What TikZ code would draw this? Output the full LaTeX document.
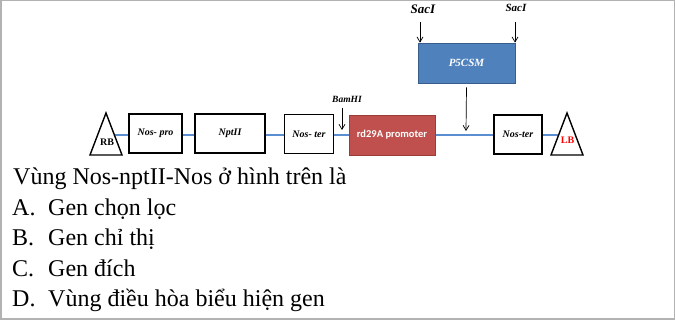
\documentclass[tikz,border=0pt]{standalone}
\usepackage{fontspec}
\setmainfont{Liberation Serif}
\newfontfamily\carlito{Carlito}
\usetikzlibrary{arrows.meta}
\definecolor{dnablue}{HTML}{5B8ED0}
\definecolor{promred}{HTML}{C0504D}
\definecolor{promedge}{HTML}{9C3B38}
\definecolor{geneblue}{HTML}{4F81BD}
\definecolor{geneedge}{HTML}{385D8A}

\begin{document}
\begin{tikzpicture}[x=1pt,y=1pt,
  genebox/.style={draw, line width=1.4pt, fill=white, inner sep=0pt, minimum height=39,
    font=\fontsize{10}{12}\selectfont\bfseries\itshape},
  cut/.style={-{Straight Barb[length=5pt,width=6pt]}, line width=0.7pt},
  site/.style={inner sep=0pt, font=\bfseries\itshape}]

\useasboundingbox (0,0) rectangle (675,320);
\draw[gray!60, line width=1.5pt] (0.75,0.75) rectangle (674.25,319.25);

% T-DNA backbone between the two borders
\coordinate (rbtop) at (106,207);
\coordinate (lbtop) at (567,207);
\draw[dnablue, line width=1.8pt] (106,185) -- (567,185);

% border triangles
\draw[line width=1.4pt, fill=white] (90,165) -- (rbtop) -- (122,165) -- cycle;
\draw[line width=1.4pt, fill=white] (551,165) -- (lbtop) -- (583,165) -- cycle;
\node[inner sep=0pt, font=\fontsize{10}{12}\selectfont\bfseries] (rb) at (107,177.5) {RB};
\node[inner sep=0pt, text=red, font=\fontsize{10}{12}\selectfont\bfseries] (lb) at (567.5,180) {LB};

% cassette boxes
\node[genebox, minimum width=53] (nospro) at (155.5,186.5) {Nos- pro};
\node[genebox, minimum width=70] (nptii) at (230,186.5) {NptII};
\node[genebox, minimum width=49] (noster) at (309,186) {Nos- ter};
\node[draw=promedge, fill=promred, line width=0.8pt, minimum width=86, minimum height=40,
  inner sep=0pt, text=white, font=\carlito\fontsize{10.5}{12}\selectfont\bfseries] (rd) at (392,185) {rd29A promoter};
\node[genebox, minimum width=48] (nosterb) at (518,185.5) {Nos-ter};

% inserted gene
\node[draw=geneedge, fill=geneblue, line width=0.8pt, minimum width=97, minimum height=40,
  inner sep=0pt, text=white, font=\fontsize{11}{13}\selectfont\bfseries\itshape] (p5) at (466.5,257) {P5CSM};

% restriction sites
\node[site, font=\fontsize{13}{15}\selectfont\bfseries\itshape] (saca) at (423,311) {SacI};
\node[site, font=\fontsize{11}{13}\selectfont\bfseries\itshape] (sacb) at (516,312.5) {SacI};
\node[site, font=\fontsize{9.5}{11}\selectfont\bfseries\itshape] (bam) at (347,221) {BamHI};
\coordinate (sacastart) at (420,298);
\coordinate (sacbstart) at (515,298);
\coordinate (bamstart) at (342,212);
\coordinate (bamend) at (342,190);
\coordinate (insert) at (466,189);
\draw[cut] (sacastart) -- (sacastart |- p5.north);
\draw[cut] (sacbstart) -- (sacbstart |- p5.north);
\draw[cut] (bamstart) -- (bamend);
\draw[cut] ([yshift=-4]p5.south) -- (insert);

% question
\node[anchor=base west, inner sep=0pt, font=\fontsize{24}{29}\selectfont] (q) at (13,135)
  {Vùng Nos-nptII-Nos ở hình trên là};
\foreach \lab/\txt [count=\i] in {A./Gen chọn lọc, B./Gen chỉ thị, C./Gen đích, D./Vùng điều hòa biểu hiện gen}
{
  \node[anchor=base west, inner sep=0pt, font=\fontsize{24}{29}\selectfont] (optlab\i) at (12,135-30.5*\i) {\lab};
  \node[anchor=base west, inner sep=0pt, font=\fontsize{24}{29}\selectfont] (opt\i) at (48,135-30.5*\i) {\txt};
}

\end{tikzpicture}
\end{document}
